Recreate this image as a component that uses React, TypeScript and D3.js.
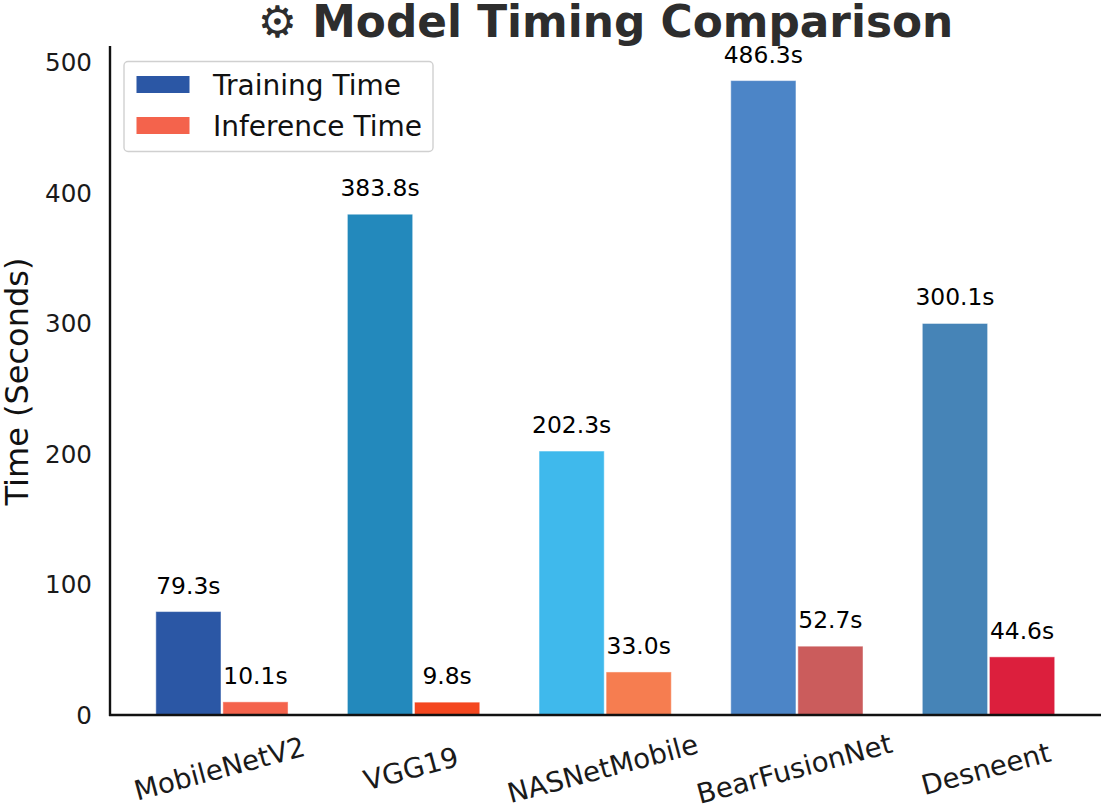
import React from "react";
import * as d3 from "d3";

const models = ["MobileNetV2", "VGG19", "NASNetMobile", "BearFusionNet", "Desneent"];
const trainingTime = [79.3, 383.8, 202.3, 486.3, 300.1];
const inferenceTime = [10.1, 9.8, 33.0, 52.7, 44.6];
const trainingColors = ["#2b57a5", "#2389bc", "#3fb9ec", "#4c85c7", "#4684b7"];
const inferenceColors = ["#f4634c", "#f4471f", "#f67d50", "#cb5c5c", "#dc1f3d"];
const yTicks = [0, 100, 200, 300, 400, 500];
const legendItems = ["Training Time", "Inference Time"];
const legendColors = ["#2b57a5", "#f4634c"];
const titleText = "⚙ Model Timing Comparison";
const yLabel = "Time (Seconds)";

const W = 1104, H = 810;
const FONT = "'DejaVu Sans', sans-serif";
const x = d3.scaleLinear().domain([-0.584, 4.587]).range([110, 1101]);
const y = d3.scaleLinear().domain([0, 500]).range([715.5, 63.2]);
const barW = x(0.335) - x(0);
const off = x(0.175) - x(0);

export default function App() {
  const series = [
    { vals: trainingTime, cols: trainingColors, dx: -off },
    { vals: inferenceTime, cols: inferenceColors, dx: off },
  ];
  return (
    <svg width={W} height={H} viewBox={`0 0 ${W} ${H}`}
      style={{ position: "absolute", left: 0, top: 0, background: "#fff" }} fontFamily={FONT}>
      <text x={605.5} y={36.5} textAnchor="middle" fontSize={43.8} fontWeight="bold" fill="#2d2d2d">{titleText}</text>

      {series.map((s, si) => s.vals.map((v, i) => {
        const cx = x(i) + s.dx;
        return (
          <g key={`${si}-${i}`}>
            <rect x={cx - barW / 2} y={y(v)} width={barW} height={y(0) - y(v)}
              fill={s.cols[i]} stroke={s.cols[i]} strokeOpacity={0.55} strokeWidth={1} />
            <text x={cx} y={y(v) - 18.5} textAnchor="middle" fontSize={23.4} fill="#000">{v.toFixed(1)}s</text>
          </g>
        );
      }))}

      <line x1={110} x2={110} y1={46} y2={716} stroke="#111" strokeWidth={2.4} />
      <line x1={109} x2={1101} y1={715} y2={715} stroke="#111" strokeWidth={2.4} />

      {yTicks.map(t => (
        <text key={t} x={92} y={y(t) + 8.2} textAnchor="end" fontSize={24.6} fill="#1a1a1a">{t}</text>
      ))}
      <text transform="translate(28,381.5) rotate(-90)" textAnchor="middle" fontSize={32} fill="#111">{yLabel}</text>

      {models.map((m, i) => (
        <text key={m} textAnchor="middle" fontSize={27.6} fill="#1a1a1a"
          transform={`translate(${x(i)},${778}) rotate(-15)`}>{m}</text>
      ))}

      <rect x={124} y={61.5} width={309} height={90} rx={4} fill="#fff" stroke="#d0d0d0" strokeWidth={1.4} />
      {legendItems.map((l, i) => (
        <g key={l}>
          <rect x={136.5} y={76 + i * 41} width={53} height={17} fill={legendColors[i]} />
          <text x={213} y={94.5 + i * 41} fontSize={28} fill="#111">{l}</text>
        </g>
      ))}
    </svg>
  );
}
